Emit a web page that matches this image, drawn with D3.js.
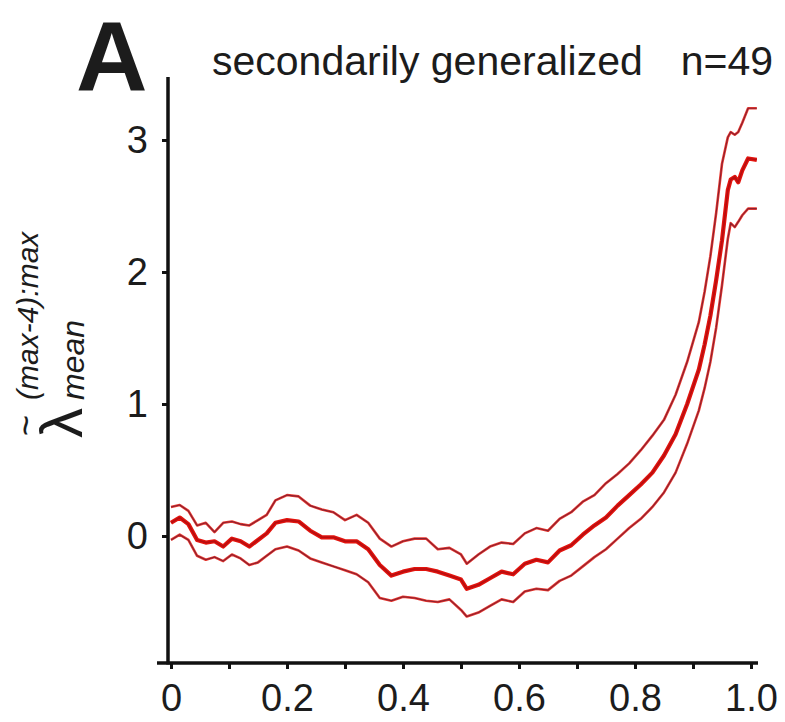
<!DOCTYPE html>
<html>
<head>
<meta charset="utf-8">
<script src="https://cdn.jsdelivr.net/npm/d3@7/dist/d3.min.js"></script>
<style>
  html, body { margin: 0; padding: 0; background: #fff; }
  svg { display: block; }
  text { font-family: "Liberation Sans", Arial, Helvetica, sans-serif; fill: #1c1c1c; }
</style>
</head>
<body>
<svg id="chart" width="785" height="722"></svg>
<script>
// ---- data ----
const xs = [0, 0.015, 0.03, 0.045, 0.06, 0.075, 0.09, 0.105, 0.12, 0.135, 0.15, 0.165, 0.18, 0.2, 0.22, 0.24, 0.26, 0.28, 0.3, 0.32,
  0.34, 0.36, 0.38, 0.4, 0.42, 0.44, 0.46, 0.48, 0.5, 0.51, 0.53, 0.55, 0.57, 0.59, 0.61, 0.63, 0.65, 0.67, 0.69, 0.71,
  0.73, 0.75, 0.77, 0.79, 0.81, 0.83, 0.85, 0.87, 0.89, 0.91, 0.92, 0.93, 0.94, 0.95, 0.96, 0.965, 0.972, 0.978, 0.985, 0.995, 1.01];

const meanVals = [0.10, 0.14, 0.09, -0.03, -0.05, -0.04, -0.08, -0.02, -0.04, -0.08, -0.03, 0.02, 0.10, 0.12, 0.11, 0.04, -0.01, -0.01, -0.04, -0.04,
  -0.10, -0.22, -0.30, -0.27, -0.25, -0.25, -0.27, -0.30, -0.33, -0.40, -0.37, -0.32, -0.27, -0.29, -0.21, -0.18, -0.20, -0.11, -0.07, 0.01,
  0.08, 0.14, 0.23, 0.31, 0.39, 0.48, 0.61, 0.77, 1.00, 1.26, 1.45, 1.67, 1.94, 2.24, 2.62, 2.70, 2.72, 2.68, 2.77, 2.86, 2.85];

const upperVals = [0.22, 0.235, 0.19, 0.08, 0.10, 0.03, 0.10, 0.11, 0.09, 0.08, 0.12, 0.16, 0.27, 0.31, 0.30, 0.23, 0.20, 0.18, 0.12, 0.16,
  0.10, -0.02, -0.08, -0.04, -0.02, -0.02, -0.10, -0.09, -0.14, -0.21, -0.14, -0.08, -0.05, -0.06, 0.02, 0.06, 0.04, 0.13, 0.18, 0.26,
  0.31, 0.40, 0.47, 0.55, 0.65, 0.76, 0.88, 1.07, 1.32, 1.62, 1.85, 2.12, 2.45, 2.82, 3.02, 3.06, 3.04, 3.06, 3.13, 3.24, 3.24];

const lowerVals = [-0.03, 0.01, -0.03, -0.15, -0.18, -0.16, -0.19, -0.14, -0.17, -0.22, -0.20, -0.15, -0.10, -0.08, -0.11, -0.17, -0.20, -0.23, -0.26, -0.29,
  -0.35, -0.47, -0.49, -0.46, -0.47, -0.49, -0.50, -0.48, -0.56, -0.61, -0.58, -0.53, -0.48, -0.50, -0.42, -0.40, -0.41, -0.34, -0.30, -0.23,
  -0.16, -0.10, -0.02, 0.06, 0.13, 0.22, 0.33, 0.48, 0.70, 0.95, 1.12, 1.32, 1.58, 1.90, 2.25, 2.37, 2.34, 2.38, 2.43, 2.48, 2.48];

const xTicks = [0, 0.1, 0.2, 0.3, 0.4, 0.5, 0.6, 0.7, 0.8, 0.9, 1.0];
const xTickLabels = ["0", "", "0.2", "", "0.4", "", "0.6", "", "0.8", "", "1.0"];
const yTicks = [0, 1, 2, 3];
const yTickLabels = ["0", "1", "2", "3"];

const panelLetter = "A";
const titleText = "secondarily generalized";
const nText = "n=49";

// ---- scales ----
const svg = d3.select("#chart");
const x = d3.scaleLinear().domain([0, 1]).range([171, 751]);
const y = d3.scaleLinear().domain([0, 3]).range([536, 140]);

const axisLeftX = 168;
const axisBottomY = 663;
const yTopPix = 77;

// ---- axes ----
const xAxis = d3.axisBottom(x)
  .tickValues(xTicks)
  .tickSize(6)
  .tickPadding(15)
  .tickFormat((d, i) => xTickLabels[i]);

const gx = svg.append("g")
  .attr("transform", `translate(0,${axisBottomY})`)
  .call(xAxis);
gx.select(".domain").remove();
gx.selectAll(".tick line").attr("stroke", "#111").attr("stroke-width", 3);
gx.selectAll(".tick text")
  .attr("font-size", 38)
  .attr("font-family", "Liberation Sans, Arial, sans-serif")
  .attr("fill", "#1c1c1c");

const yAxis = d3.axisLeft(y)
  .tickValues(yTicks)
  .tickSize(6)
  .tickPadding(14)
  .tickFormat((d, i) => yTickLabels[i]);

const gy = svg.append("g")
  .attr("transform", `translate(${axisLeftX},0)`)
  .call(yAxis);
gy.select(".domain").remove();
gy.selectAll(".tick line").attr("stroke", "#111").attr("stroke-width", 3);
gy.selectAll(".tick text")
  .attr("font-size", 38)
  .attr("font-family", "Liberation Sans, Arial, sans-serif")
  .attr("fill", "#1c1c1c");

// axis lines
svg.append("line")
  .attr("x1", axisLeftX).attr("x2", axisLeftX)
  .attr("y1", yTopPix).attr("y2", axisBottomY + 1.5)
  .attr("stroke", "#111").attr("stroke-width", 3.5);
svg.append("line")
  .attr("x1", 157).attr("x2", 758)
  .attr("y1", axisBottomY).attr("y2", axisBottomY)
  .attr("stroke", "#111").attr("stroke-width", 3.5);

// ---- lines ----
const line = d3.line()
  .x((d) => x(d[0]))
  .y((d) => y(d[1]))
  .curve(d3.curveLinear);

const toPts = (vals) => xs.map((xv, i) => [xv, vals[i]]);

[upperVals, lowerVals].forEach((vals) => {
  svg.append("path")
    .datum(toPts(vals))
    .attr("d", line)
    .attr("fill", "none")
    .attr("stroke", "#ec3a30")
    .attr("stroke-width", 2.6)
    .attr("stroke-linejoin", "round");
  svg.append("path")
    .datum(toPts(vals))
    .attr("d", line)
    .attr("fill", "none")
    .attr("stroke", "#8a2030")
    .attr("stroke-width", 1.1)
    .attr("stroke-linejoin", "round");
});

svg.append("path")
  .datum(toPts(meanVals))
  .attr("d", line)
  .attr("fill", "none")
  .attr("stroke", "#e3140e")
  .attr("stroke-width", 4.2)
  .attr("stroke-linejoin", "round");
svg.append("path")
  .datum(toPts(meanVals))
  .attr("d", line)
  .attr("fill", "none")
  .attr("stroke", "#b80e10")
  .attr("stroke-width", 1.6)
  .attr("stroke-linejoin", "round");

// ---- texts ----
svg.append("text")
  .attr("x", 76).attr("y", 90)
  .attr("font-size", 99)
  .attr("font-weight", "bold")
  .attr("fill", "#000")
  .text(panelLetter);

svg.append("text")
  .attr("x", 212).attr("y", 75)
  .attr("font-size", 41)
  .text(titleText);

svg.append("text")
  .attr("x", 773).attr("y", 75)
  .attr("font-size", 41)
  .attr("text-anchor", "end")
  .text(nText);

// y-axis label: lambda with tilde, superscript and subscript
const yl = svg.append("g").attr("transform", "translate(82,438) rotate(-90)");
yl.append("text")
  .attr("x", 0).attr("y", 0)
  .attr("font-size", 60)
  .text("λ");
yl.append("text")
  .attr("x", 2).attr("y", -44)
  .attr("font-size", 36)
  .text("~");
yl.append("text")
  .attr("x", 38).attr("y", -44)
  .attr("font-size", 30)
  .attr("font-style", "italic")
  .text("(max-4):max");
yl.append("text")
  .attr("x", 38).attr("y", 2)
  .attr("font-size", 32)
  .attr("font-style", "italic")
  .text("mean");
</script>
</body>
</html>
